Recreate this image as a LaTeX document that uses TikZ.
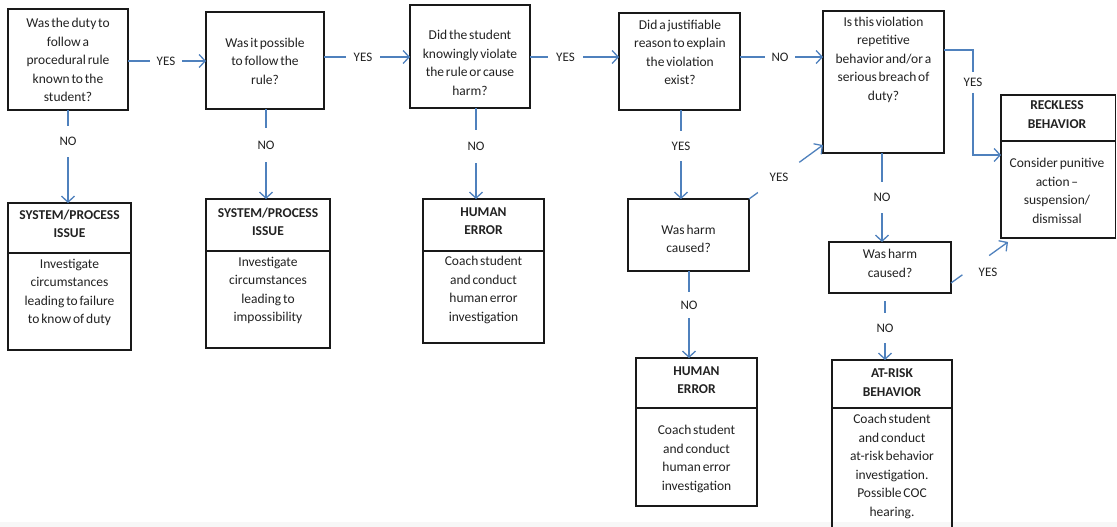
\documentclass[tikz,border=0pt]{standalone}
\usepackage{fontspec}
\setmainfont{Carlito}[WordSpace=0.6]
\usetikzlibrary{arrows.meta,calc}
\definecolor{arrowblue}{HTML}{4F81BD}
\definecolor{txtgray}{HTML}{222222}
\begin{document}
\begin{tikzpicture}[x=1pt,y=-1pt,
  box/.style={draw=black!90,line width=1.3pt,inner sep=0pt,outer sep=0pt},
  divider/.style={draw=black!90,line width=1.3pt},
  txt/.style={align=center,inner sep=0pt,font=\fontsize{13.5}{18.5}\selectfont,text=txtgray},
  head/.style={align=center,inner sep=0pt,font=\fontsize{13.5}{18.5}\selectfont\bfseries,text=txtgray},
  lab/.style={inner sep=0pt,outer sep=0pt,font=\fontsize{13}{15}\selectfont,text=txtgray},
  ln/.style={draw=arrowblue,line width=1.3pt},
  arr/.style={ln,-{Straight Barb[length=6pt,width=13pt]}},
]
\useasboundingbox (0,0) rectangle (1117,527);
\fill[white] (0,0) rectangle (1117,527);
\fill[black!3] (0,522) rectangle (1117,527);
\begin{scope}
\clip (0,0) rectangle (1117,527);

% question boxes
\node[box,minimum width=120pt,minimum height=101pt] (q1) at (68,59.5) {};
\node[box,minimum width=118pt,minimum height=97pt] (q2) at (265,60.5) {};
\node[box,minimum width=120pt,minimum height=103pt] (q3) at (470,56.5) {};
\node[box,minimum width=121pt,minimum height=97pt] (q4) at (679.5,61.5) {};
\node[box,minimum width=121pt,minimum height=142pt] (q5) at (883.5,82) {};
\node[box,minimum width=121pt,minimum height=72pt] (h1) at (688.5,235) {};
\node[box,minimum width=122pt,minimum height=51pt] (h2) at (890,267.5) {};

\node[txt] (tq1) at (68,60) {Was the duty to\\follow a\\procedural rule\\known to the\\student?};
\node[txt] (tq2) at (265,61) {Was it possible\\to follow the\\rule?};
\node[txt] (tq3) at (470,63) {Did the student\\knowingly violate\\the rule or cause\\harm?};
\node[txt] (tq4) at (680,52.5) {Did a justifiable\\reason to explain\\the violation\\exist?};
\node[txt] (tq5) at (883.5,59.5) {Is this violation\\repetitive\\behavior and/or a\\serious breach of\\duty?};
\node[txt] (th1) at (688.5,239) {Was harm\\caused?};
\node[txt] (th2) at (890,263.5) {Was harm\\caused?};

% outcome boxes
\node[box,minimum width=123pt,minimum height=147pt] (s1) at (69.5,276.5) {};
\draw[divider] (s1.west |- 0,253) -- (s1.east |- 0,253);
\node[head] (hs1) at (69.5,224) {SYSTEM/PROCESS\\ISSUE};
\node[txt] (bs1) at (69.5,292.5) {Investigate\\circumstances\\leading to failure\\to know of duty};

\node[box,minimum width=124pt,minimum height=149pt] (s2) at (268,273.5) {};
\draw[divider] (s2.west |- 0,251) -- (s2.east |- 0,251);
\node[head] (hs2) at (268,222) {SYSTEM/PROCESS\\ISSUE};
\node[txt] (bs2) at (268,290.5) {Investigate\\circumstances\\leading to\\impossibility};

\node[box,minimum width=121pt,minimum height=144pt] (e1) at (483.5,271) {};
\draw[divider] (e1.west |- 0,251) -- (e1.east |- 0,251);
\node[head] (he1) at (483.5,221) {HUMAN\\ERROR};
\node[txt] (be1) at (483.5,290) {Coach student\\and conduct\\human error\\investigation};

\node[box,minimum width=121pt,minimum height=148pt] (e2) at (696.5,432) {};
\draw[divider] (e2.west |- 0,408) -- (e2.east |- 0,408);
\node[head] (he2) at (696.5,380) {HUMAN\\ERROR};
\node[txt] (be2) at (696.5,459) {Coach student\\and conduct\\human error\\investigation};

\node[box,minimum width=114.5pt,minimum height=143pt] (r) at (1058.25,166.5) {};
\draw[divider] (r.west |- 0,141) -- (r.east |- 0,141);
\node[head] (hr) at (1057,114.5) {RECKLESS\\BEHAVIOR};
\node[txt] (br) at (1057,191) {Consider punitive\\action --\\suspension/\\dismissal};

\node[box,minimum width=120pt,minimum height=185pt] (a) at (892,452.5) {};
\draw[divider] (a.west |- 0,408) -- (a.east |- 0,408);
\node[head] (ha) at (892,382.5) {AT-RISK\\BEHAVIOR};
\node[txt] (ba) at (892,466.5) {Coach student\\and conduct\\at-risk behavior\\investigation.\\Possible COC\\hearing.};

% horizontal connectors
\node[lab,minimum width=32pt] (l1) at (166,61) {YES};
\draw[ln] (q1.east |- l1) -- (l1.west);
\draw[arr] (l1.east) -- (l1 -| q2.west);

\node[lab,minimum width=34pt] (l2) at (363,57) {YES};
\draw[ln] (q2.east |- l2) -- (l2.west);
\draw[arr] (l2.east) -- (l2 -| q3.west);

\node[lab,minimum width=35pt] (l3) at (565.5,57) {YES};
\draw[ln] (q3.east |- l3) -- (l3.west);
\draw[arr] (l3.east) -- (l3 -| q4.west);

\node[lab,minimum width=30pt] (l4) at (780,57) {NO};
\draw[ln] (q4.east |- l4) -- (l4.west);
\draw[arr] (l4.east) -- (l4 -| q5.west);

% vertical connectors
\node[lab,minimum height=31pt] (v1) at (68,141.5) {NO};
\draw[ln] (q1.south -| v1) -- (v1.north);
\draw[arr] (v1.south) -- (v1 |- s1.north);

\node[lab,minimum height=34pt] (v2) at (266,145) {NO};
\draw[ln] (q2.south -| v2) -- (v2.north);
\draw[arr] (v2.south) -- (v2 |- s2.north);

\node[lab,minimum height=33pt] (v3) at (476,146.5) {NO};
\draw[ln] (q3.south -| v3) -- (v3.north);
\draw[arr] (v3.south) -- (v3 |- e1.north);

\node[lab,minimum height=30pt] (v4) at (681,146) {YES};
\draw[ln] (q4.south -| v4) -- (v4.north);
\draw[arr] (v4.south) -- (v4 |- h1.north);

\node[lab,minimum height=26pt] (v5) at (689,305) {NO};
\draw[ln] (h1.south -| v5) -- (v5.north);
\draw[arr] (v5.south) -- (v5 |- e2.north);

\node[lab,minimum height=31pt] (v6) at (882,197.5) {NO};
\draw[ln] (q5.south -| v6) -- (v6.north);
\draw[arr] (v6.south) -- (v6 |- h2.north);

\node[lab,minimum height=30pt] (v7) at (885,328) {NO};
\draw[ln,shorten <=8pt] (h2.south -| v7) -- (v7.north);
\draw[arr] (v7.south) -- (v7 |- a.north);

% violation box to reckless
\node[lab,minimum height=21pt] (y5) at (973,82.5) {YES};
\draw[ln] ([yshift=32pt]q5.east) -| (y5.north);
\draw[arr] (y5.south) |- ([yshift=11.5pt]r.west);

% diagonal: harm (left) to violation box
\coordinate (d1) at ([yshift=8pt]q5.south west);
\draw[ln] (h1.north east) -- ($(h1.north east)!0.12!(d1)$);
\node[lab] (yd1) at ($(h1.north east)!0.405!(d1)$) {YES};
\draw[arr] ($(h1.north east)!0.68!(d1)$) -- (d1);

% diagonal: harm (right) to reckless
\coordinate (d2s) at ([yshift=-15.5pt]h2.east);
\coordinate (d2) at ([xshift=7pt,yshift=-4pt]r.south west);
\draw[ln] (d2s) -- ($(d2s)!0.2!(d2)$);
\node[lab] (yd2) at (988,272) {YES};
\draw[arr] ($(d2s)!0.67!(d2)$) -- (d2);
\end{scope}
\end{tikzpicture}
\end{document}
